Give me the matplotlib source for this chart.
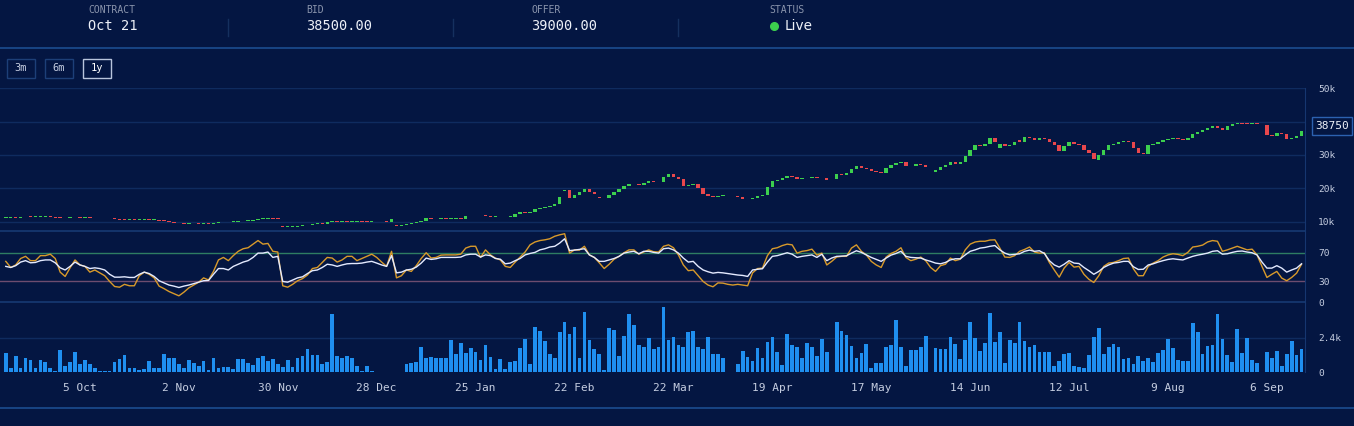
import matplotlib
matplotlib.use("Agg")
from matplotlib import pyplot as plt
from matplotlib.lines import Line2D
from matplotlib.patches import Rectangle
import numpy as np
import pandas as pd

FIG_W, FIG_H = 1354, 426
PLOT_RIGHT = 1305

BG = "#041642"
GRID = "#0f2b5f"
SEPARATOR = "#173a73"
BRIGHT_LINE = "#1c4d90"
AXIS_LINE = "#163670"
TICK_TEXT = "#c5cde0"
LABEL_TEXT = "#8b95ad"
VALUE_TEXT = "#eef1f8"
GREEN = "#3ccf4e"
RED = "#e8474c"
VOLUME_BLUE = "#1f8ff0"
FAST_LINE = "#d89a2b"
SLOW_LINE = "#e4eaff"

# header of the page
HEADER_LABELS = ["CONTRACT", "BID", "OFFER", "STATUS"]
HEADER_VALUES = ["Oct 21", "38500.00", "39000.00", "Live"]
RANGE_BUTTONS = ["3m", "6m", "1y"]
LAST_PRICE_LABEL = "38750"

START_DATE = "2020-09-14"
TICK_DATES = ["2020-10-05", "2020-11-02", "2020-11-30", "2020-12-28", "2021-01-25",
              "2021-02-22", "2021-03-22", "2021-04-19", "2021-05-17", "2021-06-14",
              "2021-07-12", "2021-08-09", "2021-09-06"]

# daily closes in thousands, None = no trading
CLOSES = [
    11.2, 11.3, 11.2, 11.3, 11.5, 11.4, 11.4, 11.5, 11.5, 11.4,
    11.2, 11.1, 11.0, 11.4, 11.3, 11.2, 11.2, 11.1, 11.0, 11.0,
    11.1, 11.0, 10.7, 10.6, 10.5, 10.6, 10.5, 10.5, 10.6, 10.5,
    10.5, 10.3, 10.2, 9.9, 9.7, 9.5, 9.4, 9.5, 9.5, 9.4,
    9.5, 9.4, 9.6, 9.8, 9.8, 9.9, 10.0, 10.1, 10.2, 10.3,
    10.4, 10.9, 10.9, 11.0, 10.9, 10.8, 8.4, 8.4, 8.5, 8.7,
    8.9, 9.1, 9.3, 9.5, 9.4, 9.9, 10.0, 9.9, 10.0, 9.9,
    10.0, 10.1, 10.0, 9.9, 10.0, None, None, 10.0, 10.7, 8.7,
    9.0, 9.2, 9.5, 9.9, 10.2, 11.0, 10.7, 10.8, 10.9, 10.8,
    10.9, 11.0, 10.9, 11.6, 11.7, 11.6, 11.8, 11.7, 11.4, 11.5,
    11.3, 11.4, 11.5, 12.2, 12.8, 12.7, 13.0, 13.8, 14.2, 14.3,
    14.6, 15.2, 17.4, 19.6, 17.0, 18.0, 18.8, 19.8, 18.8, 18.2,
    17.1, 17.0, 18.0, 19.0, 19.7, 20.7, 21.3, 21.2, 21.0, 21.5,
    22.2, 22.0, 21.8, 23.4, 24.2, 23.5, 22.8, 20.8, 21.0, 21.4,
    20.0, 18.4, 17.8, 17.5, 17.7, 17.9, None, None, 17.3, 16.9,
    16.7, 17.2, 17.6, 18.0, 20.4, 22.2, 22.4, 23.0, 23.7, 23.4,
    22.9, 23.2, 23.0, 23.3, 23.2, 23.0, 22.6, None, 24.2, 24.1,
    24.6, 25.8, 26.8, 26.2, 25.8, 25.1, 24.9, 24.5, 26.0, 27.0,
    27.6, 28.0, 26.8, 26.6, 27.2, 27.0, 26.5, None, 25.6, 26.4,
    27.0, 27.8, 27.2, 27.8, 29.8, 31.4, 33.0, 32.8, 33.2, 35.2,
    34.0, 33.2, 32.6, 33.0, 33.8, 33.9, 35.4, 35.0, 34.6, 35.2,
    34.8, 34.0, 33.0, 31.2, 32.8, 34.0, 33.4, 33.0, 31.6, 30.6,
    28.8, 30.0, 31.6, 33.0, 33.4, 33.8, 34.2, 34.0, 32.2, 30.6,
    30.4, 33.0, 33.4, 33.8, 34.4, 34.8, 35.0, 34.8, 34.4, 35.2,
    36.2, 36.8, 37.4, 38.2, 38.8, 38.0, 37.4, 38.6, 39.2, 39.4,
    39.3, 39.2, 39.6, 39.3, None, 36.0, 35.6, 36.6, 36.4, 34.8,
    35.2, 35.8, 37.2,
]
# candles open at the previous close, except these (first day and gaps)
OPEN_OVERRIDES = {0: 11.1, 56: 8.7, 77: 10.2, 79: 9.0, 113: 19.2, 120: 17.3, 148: 17.6,
                  168: 22.8, 188: 25.0, 201: 32.0, 205: 34.6, 221: 28.4, 255: 39.0}

# oscillator, orange (fast) and white (slow)
FAST = [
    58, 49.5, 53, 62, 65, 59, 59, 66, 66, 68,
    62, 43, 37, 49, 60, 53, 51, 43, 46, 42,
    38, 30, 23, 22, 26, 24, 24, 38, 43, 40,
    35, 23.5, 20, 16, 13, 10, 15, 21, 25, 29,
    35, 32, 44, 60, 63.5, 59, 66, 72, 75.6, 77,
    82, 87, 82, 83, 72, 71, 24, 22, 26, 31,
    34, 39, 48, 49.5, 56.5, 63.5, 62.6, 57, 60, 65,
    65, 59, 62, 65, 68, 63.5, 57, 51, 72, 35,
    38, 46, 44, 52, 62, 70, 62.6, 63.5, 66.7, 67,
    67, 67, 68, 76.5, 79, 79, 63.5, 74, 67, 62.6,
    60, 51, 49.5, 57, 64, 71, 81, 85, 87, 88,
    89.5, 93, 95, 96.5, 69.5, 74, 73.7, 79, 67, 63.5,
    56, 48, 54, 61, 65, 70, 74, 74, 68, 71,
    74, 71.4, 71, 79, 81, 77, 67, 53, 45, 46,
    38, 30, 25, 22.6, 28, 27.7, 26, 25, 26, 25,
    24, 42, 48, 48.6, 66, 75.6, 77, 80, 82, 81,
    69.5, 72, 73, 75, 66.7, 69.5, 53, 58, 64, 65,
    65, 76.5, 81, 72, 67, 58, 53, 49.5, 64, 69,
    72, 77, 63.5, 59, 61, 64, 59, 49.5, 44, 52,
    54, 62.6, 59, 61, 74, 82, 85, 86, 86, 87.7,
    88, 76.5, 64, 63.5, 66, 72, 74.6, 78, 71, 69.5,
    70, 56.5, 46, 36, 48.6, 56.5, 50, 51, 40, 33,
    28.6, 38, 51, 55.6, 56.5, 59, 62, 62.6, 47.7, 38,
    38, 51, 55.6, 59, 64, 67, 68.6, 67.7, 66, 70.5,
    78, 79, 80.7, 85, 87, 86, 72, 74, 76.5, 79,
    76.5, 74, 75, 67, 51, 35.6, 40, 44, 34.7, 31,
    35.6, 41.6, 54,
]
SLOW = [
    51, 49.5, 52, 57, 59, 56, 56.5, 59, 60, 60,
    56, 49, 46, 51, 57, 53, 51, 48, 49, 48,
    46, 40, 36, 36, 36.5, 35.6, 35.6, 40, 43, 41,
    37, 31, 28, 25, 23.5, 21.6, 23.5, 25, 27, 29,
    31, 31.4, 40, 48, 48, 46, 51, 54, 57, 59,
    63.5, 69.5, 69.5, 71, 63.5, 65, 30, 29, 32, 35,
    36.5, 41, 45, 46, 49.5, 54, 53, 51, 53, 54.6,
    55, 55, 55.6, 57, 58, 55.6, 53, 51, 66, 42,
    43, 46, 47, 50, 55.6, 62.6, 60.7, 61.6, 63.5, 63.5,
    63.5, 63.5, 64, 67, 68, 68, 64, 67, 66, 62,
    61, 54.6, 55.6, 59, 62, 67, 69, 70.5, 74, 75.6,
    78, 79, 83.5, 89.5, 73, 73.7, 74.6, 75.6, 67, 63.5,
    58, 58, 60, 62, 65, 69.5, 71, 72, 68.6, 72,
    72, 70.5, 69.5, 75.6, 76.5, 74, 69.5, 62.6, 57, 58,
    51, 46, 43.5, 41.6, 42.6, 42, 41, 40, 39, 38.4,
    37, 46, 47, 47.7, 57, 65, 66, 68, 70, 68,
    63.5, 65, 66, 67, 63.5, 68, 59, 62.6, 65, 65.3,
    65.8, 69.5, 72.8, 70.5, 67, 63.5, 60.7, 58, 62.6, 66.7,
    69, 72, 65, 63.5, 63, 62.6, 60, 58, 55.6, 54.6,
    56.5, 60, 61.6, 61.6, 67, 72, 74, 76.5, 77.4, 79,
    80, 74, 69.5, 67, 67.7, 68.6, 72, 73.7, 72, 72.8,
    69, 59, 53, 50, 54, 59, 55.6, 55, 49.5, 45,
    40, 44, 49.5, 53, 55.6, 56.5, 58, 58, 50.5, 46.7,
    47, 53, 54.6, 57, 59, 60.7, 61.6, 60.7, 60, 62.6,
    65, 66.7, 68, 69.5, 72, 72.8, 68, 68.6, 70.5, 72,
    72.4, 71, 70, 67, 57, 48.6, 48.6, 52, 48.6, 43,
    46, 48.6, 54.6,
]

# volume in thousands
VOLUME = [
    1.32, 0.26, 1.15, 0.26, 1.01, 0.85, 0.26, 0.82, 0.68, 0.26,
    0.07, 1.53, 0.45, 0.68, 1.39, 0.54, 0.82, 0.54, 0.26, 0.07,
    0.07, 0.07, 0.68, 0.92, 1.20, 0.31, 0.26, 0.12, 0.21, 0.78,
    0.31, 0.31, 1.25, 0.96, 0.96, 0.54, 0.26, 0.82, 0.61, 0.42,
    0.78, 0.14, 0.96, 0.26, 0.38, 0.38, 0.21, 0.92, 0.92, 0.61,
    0.49, 1.01, 1.15, 0.78, 0.92, 0.54, 0.35, 0.85, 0.35, 0.96,
    1.11, 1.60, 1.20, 1.20, 0.59, 0.73, 4.07, 1.15, 0.96, 1.15,
    0.96, 0.45, 0.07, 0.42, 0.09, None, None, 0.02, 0.02, 0.02,
    0.02, 0.54, 0.64, 0.73, 1.74, 0.96, 1.08, 0.96, 1.01, 1.01,
    2.23, 1.29, 2.07, 1.34, 1.72, 1.44, 0.85, 1.91, 1.04, 0.21,
    0.92, 0.21, 0.73, 0.78, 1.67, 2.31, 0.54, 3.15, 2.92, 2.21,
    1.25, 0.96, 2.85, 3.51, 2.68, 3.15, 1.01, 4.24, 2.26, 1.60,
    1.25, 0.12, 3.08, 2.99, 1.15, 2.52, 4.12, 3.32, 1.91, 1.76,
    2.40, 1.60, 1.76, 4.59, 2.26, 2.45, 1.91, 1.76, 2.80, 2.92,
    1.76, 1.60, 2.45, 1.25, 1.25, 1.00, None, None, 0.54, 1.51,
    1.06, 0.78, 1.69, 0.96, 2.09, 2.45, 1.39, 0.50, 2.66, 1.91,
    1.79, 0.96, 2.02, 1.79, 1.15, 2.31, 1.44, None, 3.51, 2.92,
    2.61, 1.86, 0.96, 1.36, 2.00, 0.31, 0.64, 0.64, 1.76, 1.91,
    3.67, 1.79, 0.45, 1.53, 1.53, 1.76, 2.56, None, 1.67, 1.60,
    1.60, 2.47, 2.00, 0.92, 2.24, 3.51, 2.38, 1.48, 2.07, 4.14,
    2.14, 2.80, 0.66, 2.26, 2.07, 3.51, 2.21, 1.76, 1.91, 1.44,
    1.44, 1.44, 0.45, 0.78, 1.29, 1.36, 0.45, 0.35, 0.31, 1.20,
    2.45, 3.13, 1.29, 1.74, 2.00, 1.76, 0.92, 0.99, 0.56, 1.15,
    0.78, 0.96, 0.73, 1.36, 1.55, 2.31, 1.72, 0.85, 0.78, 0.78,
    3.46, 2.85, 1.25, 1.84, 1.91, 4.09, 2.31, 1.20, 0.73, 3.04,
    1.36, 2.42, 0.85, 0.60, None, 1.44, 1.01, 1.48, 0.42, 1.29,
    2.19, 1.20, 1.62,
]

PRICE_GRID = [10, 20, 30, 40, 50]
PRICE_TICKS = [10, 20, 30, 50]
OSC_TICKS = [0, 30, 70]
VOLUME_TICKS = [0, 2.4]


def fx(x):
    return x / FIG_W


def fy(y):
    return 1 - y / FIG_H


def panel(fig, top, bottom):
    ax = fig.add_axes([0, fy(bottom), fx(PLOT_RIGHT), (bottom - top) / FIG_H])
    ax.set_facecolor(BG)
    for side in ("top", "left", "bottom"):
        ax.spines[side].set_visible(False)
    ax.spines["right"].set_color(AXIS_LINE)
    ax.yaxis.tick_right()
    ax.tick_params(axis="y", length=0, pad=9.4, labelsize=6.8, labelcolor=TICK_TEXT)
    ax.tick_params(axis="x", length=0)
    ax.set_xlim(-1.17, 262.7)
    ax.set_xticks([])
    return ax


def fig_line(fig, x0, x1, y0, y1, color, lw):
    fig.add_artist(Line2D([fx(x0), fx(x1)], [fy(y0), fy(y1)], color=color, lw=lw))


def draw_header(fig):
    label_x = [88, 306, 531, 769]
    for i, (label, value) in enumerate(zip(HEADER_LABELS, HEADER_VALUES)):
        fig.text(fx(label_x[i]), fy(10), label, color=LABEL_TEXT, fontsize=7, va="center", ha="left")
        if label == "STATUS":
            fig.add_artist(Line2D([fx(774)], [fy(26)], marker="o", markersize=5.5, color=GREEN, lw=0))
            fig.text(fx(785), fy(26), value, color=VALUE_TEXT, fontsize=9.8, va="center", ha="left",
                     family="DejaVu Sans")
        else:
            fig.text(fx(label_x[i]), fy(26), value, color=VALUE_TEXT, fontsize=9.8, va="center", ha="left")
    for x in [228, 453, 678]:
        fig_line(fig, x, x, 19, 36, "#15305f", 1)
    fig_line(fig, 0, FIG_W, 48, 48, BRIGHT_LINE, 1.2)
    fig_line(fig, 0, FIG_W, 408, 408, BRIGHT_LINE, 1.2)

    # range buttons, the last one is selected
    lefts = [7, 45, 83]
    for left, text in zip(lefts, RANGE_BUTTONS):
        selected = text == "1y"
        fig.add_artist(Rectangle((fx(left), fy(78)), fx(28), 19 / FIG_H, fc=BG,
                                 ec="#b8c4dc" if selected else "#1d3f78", lw=1))
        fig.text(fx(left + 14), fy(68), text, color="white" if selected else TICK_TEXT,
                 fontsize=7.5, ha="center", va="center")


def main():
    plt.rcParams["font.family"] = "DejaVu Sans Mono"
    fig = plt.figure(figsize=(FIG_W / 100, FIG_H / 100), dpi=100, facecolor=BG)

    dates = pd.bdate_range(START_DATE, periods=len(CLOSES))
    x = np.arange(len(dates))

    # price candles
    closes = np.array(CLOSES, dtype=float)
    opens = np.r_[np.nan, closes[:-1]]
    for i, v in OPEN_OVERRIDES.items():
        opens[i] = v
    ok = ~np.isnan(closes)
    up = closes >= opens
    ax_price = panel(fig, 88, 231)
    for level in PRICE_GRID:
        ax_price.axhline(level, color=GRID, lw=1, zorder=0)
    ax_price.bar(x[ok], np.maximum(np.abs(closes - opens), 0.25)[ok],
                 bottom=np.minimum(opens, closes)[ok], width=0.7,
                 color=np.where(up, GREEN, RED)[ok], linewidth=0)
    ax_price.set_ylim(7.21, 50.09)
    ax_price.set_yticks(PRICE_TICKS)
    ax_price.set_yticklabels(["{}k".format(t) for t in PRICE_TICKS])

    # oscillator
    ax_osc = panel(fig, 231, 303)
    ax_osc.axhline(70, color="#2e7d62", lw=1, zorder=0)
    ax_osc.axhline(30, color="#6d4c6f", lw=1, zorder=0)
    ax_osc.plot(x, FAST, color=FAST_LINE, lw=1.0)
    ax_osc.plot(x, SLOW, color=SLOW_LINE, lw=1.0)
    ax_osc.set_ylim(0, 100.3)
    ax_osc.set_yticks(OSC_TICKS)
    ax_osc.set_yticklabels([str(t) for t in OSC_TICKS])

    # volume
    volume = np.array(VOLUME, dtype=float)
    vok = ~np.isnan(volume)
    ax_vol = panel(fig, 303, 372)
    ax_vol.axhline(2.4, color=GRID, lw=1, zorder=0)
    ax_vol.bar(x[vok], volume[vok], width=0.75, color=VOLUME_BLUE, linewidth=0)
    ax_vol.set_ylim(0, 4.87)
    ax_vol.set_yticks(VOLUME_TICKS)
    ax_vol.set_yticklabels(["0", "2.4k"])
    tick_pos = [dates.get_loc(pd.Timestamp(d)) for d in TICK_DATES]
    ax_vol.set_xticks(tick_pos)
    ax_vol.set_xticklabels(["{} {}".format(pd.Timestamp(d).day, pd.Timestamp(d).strftime("%b")) for d in TICK_DATES])
    ax_vol.tick_params(axis="x", pad=8, labelsize=8, labelcolor=TICK_TEXT)

    # panel separators
    fig_line(fig, 0, PLOT_RIGHT, 231, 231, SEPARATOR, 1.2)
    fig_line(fig, 0, PLOT_RIGHT, 302, 302, SEPARATOR, 1.2)

    # last price marker on the right axis
    fig.add_artist(Rectangle((fx(1312), fy(135)), fx(40), 18 / FIG_H, fc=BG, ec="#2c61b0", lw=1))
    fig.text(fx(1332), fy(126), LAST_PRICE_LABEL, color=VALUE_TEXT, fontsize=8, ha="center", va="center")

    draw_header(fig)
    fig.savefig("out.png", dpi=100, facecolor=BG)


if __name__ == "__main__":
    main()
